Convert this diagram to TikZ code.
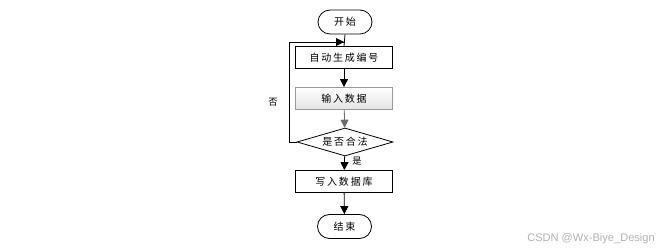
\documentclass[tikz,border=0pt]{standalone}
\usepackage{fontspec}
\newfontfamily\cjk[LetterSpace=18]{Noto Sans CJK SC}
\newfontfamily\wm{Liberation Sans}
\usetikzlibrary{arrows.meta,shapes.geometric,calc}
\begin{document}
\begin{tikzpicture}[x=0.75pt,y=-0.75pt,
  every node/.style={font=\cjk\fontsize{7.5pt}{9pt}\selectfont, inner sep=0pt},
  term/.style={draw, rounded corners=9pt, minimum width=54*0.75pt, minimum height=24*0.75pt, line width=0.6pt},
  proc/.style={draw, minimum width=97*0.75pt, minimum height=22*0.75pt, line width=0.6pt},
  gproc/.style={proc, draw=gray!80, top color=white, bottom color=gray!22},
  dec/.style={draw, diamond, aspect=3.4, minimum width=96*0.75pt, minimum height=28*0.75pt, line width=0.6pt},
  arr/.style={-{Triangle[length=6pt,width=6pt]}, line width=0.6pt},
  garr/.style={arr, draw=gray!85!black, fill=gray!85!black},
  lbl/.style={font=\cjk\fontsize{7pt}{8pt}\selectfont}
]
\useasboundingbox (0,0) rectangle (667,252);
\node[term] (start) at (345,22) {开始};
\node[proc] (gen) at (344,57.5) {自动生成编号};
\node[gproc] (input) at (344,98.5) {输入数据};
\node[dec] (check) at (345,142) {是否合法};
\node[proc] (write) at (344,181.5) {写入数据库};
\node[term] (end) at (344.5,226.5) {结束};
\coordinate (loopL) at (289,42);
\coordinate (loopB) at (289,142);
\coordinate (join) at (345,42);
\draw[line width=0.6pt] (start.south) -- (gen.north);
\draw[line width=0.6pt] (check.west) -- (loopB) -- (loopL) -- (join);
\draw[arr] (loopL) -- ($(join)+(-1,0)$);
\draw[arr] (gen) -- (input);
\draw[garr] (input) -- (check);
\draw[arr] (check) -- (write);
\draw[arr] (write) -- (end);
\node[lbl] (no) at (273,102) {否};
\node[lbl] (yes) at (357,161) {是};
\node[font=\wm\fontsize{8.3pt}{9pt}\selectfont, text=gray!60] (wmk) at (591,239) {CSDN @Wx-Biye\_Design};
\end{tikzpicture}
\end{document}
